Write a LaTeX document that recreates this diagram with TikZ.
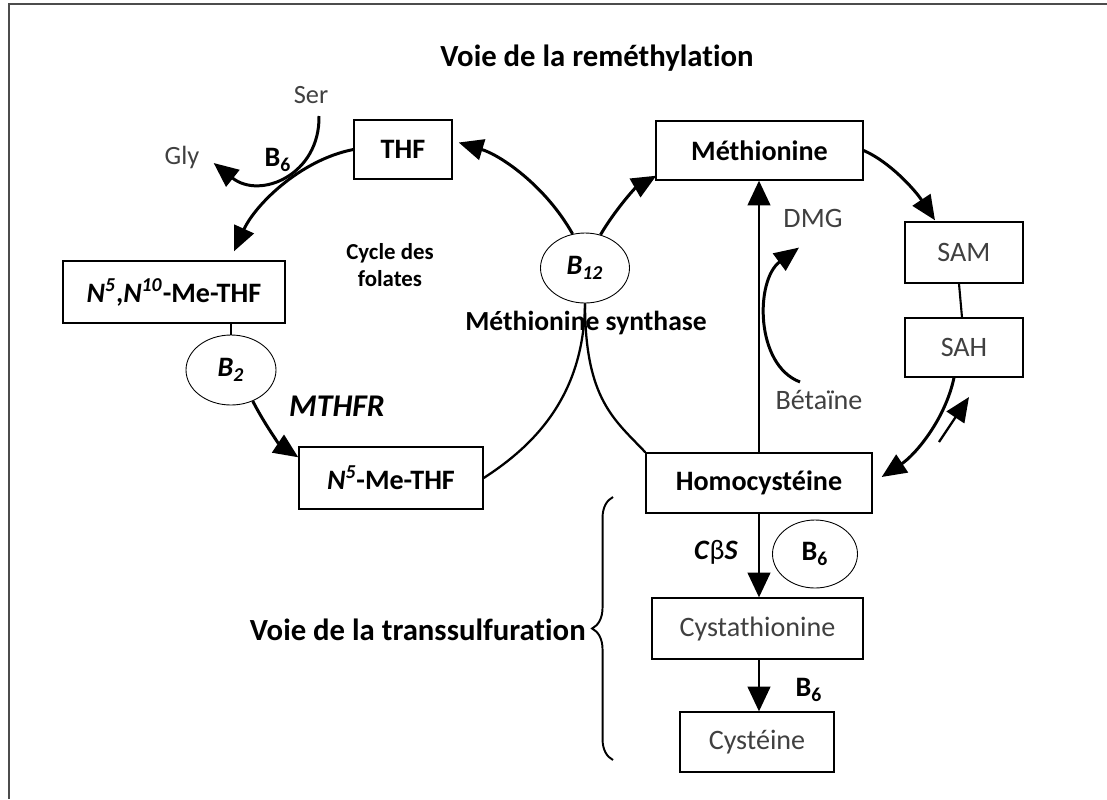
\documentclass[tikz,border=0pt]{standalone}
\usepackage{fontspec}
\setmainfont{Carlito}[Ligatures=NoCommon]
\usetikzlibrary{arrows.meta,calc,shapes.geometric,decorations.pathreplacing}

\begin{document}
\begin{tikzpicture}[x=0.02cm, y=-0.02cm,
	box/.style={draw, line width=0.8pt, inner sep=0pt},
	bfbox/.style={box, font=\fontsize{16}{18}\selectfont\bfseries},
	rmbox/.style={box, font=\fontsize{16}{18}\selectfont, text=black!75},
	vit/.style={draw, ellipse, line width=0.5pt, inner sep=0pt, font=\fontsize{16}{18}\selectfont\bfseries},
	lbl/.style={inner sep=0pt, font=\fontsize{16}{18}\selectfont, text=black!75},
	blbl/.style={inner sep=0pt, font=\fontsize{16}{18}\selectfont\bfseries},
	flux/.style={line width=1.7pt, -{Triangle[length=14pt,width=12pt]}},
	lien/.style={line width=1.3pt},
	fin/.style={line width=0.8pt, -{Triangle[length=14pt,width=13pt]}}]
	%%%%% START %%%%%
	
	\useasboundingbox (0,0) rectangle (1107,799);
	\draw[line width=1.2pt, black!70] (1107,4) -- (9,4) -- (9,799);
	
	\node[blbl, font=\fontsize{17.5}{20}\selectfont\bfseries] (titre) at (597,58) {Voie de la reméthylation};
	
	\node[bfbox, minimum width=1.96cm, minimum height=1.18cm] (thf) at (403,149.5) {THF};
	\node[bfbox, minimum width=4.14cm, minimum height=1.18cm] (meth) at (759.5,150.5) {Méthionine};
	\node[bfbox, minimum width=4.44cm, minimum height=1.24cm] (mthf) at (174,292) {\textit{N}\textsuperscript{\textit{5}},\textit{N}\textsuperscript{\textit{10}}-Me-THF};
	\node[bfbox, minimum width=3.68cm, minimum height=1.24cm] (nmthf) at (391,478) {\textit{N}\textsuperscript{\textit{5}}-Me-THF};
	\node[rmbox, minimum width=2.36cm, minimum height=1.22cm] (sam) at (964,252.5) {SAM};
	\node[rmbox, minimum width=2.36cm, minimum height=1.18cm] (sah) at (964,347.5) {SAH};
	\node[bfbox, minimum width=4.52cm, minimum height=1.2cm] (hcy) at (759,483) {Homocystéine};
	\node[rmbox, minimum width=4.22cm, minimum height=1.22cm] (cysta) at (757.5,628.5) {Cystathionine};
	\node[rmbox, minimum width=3.08cm, minimum height=1.2cm] (cys) at (757,742) {Cystéine};
	
	\node[vit, minimum width=1.8cm, minimum height=1.4cm] (bdeux) at (231,370) {\textit{B\textsubscript{2}}};
	\node[vit, minimum width=1.78cm, minimum height=1.4cm] (bdouze) at (585,268) {\textit{B\textsubscript{12}}};
	\node[vit, minimum width=1.7cm, minimum height=1.36cm] (bsix) at (815,554) {B\textsubscript{6}};
	
	\node[lbl, font=\fontsize{15}{17}\selectfont] (ser) at (311,95) {Ser};
	\node[lbl, font=\fontsize{15}{17}\selectfont] (gly) at (182,157) {Gly};
	\node[blbl] (bsixa) at (278,160) {B\textsubscript{6}};
	\node[blbl, font=\fontsize{13}{15}\selectfont\bfseries, align=center] (cycle) at (390,265) {Cycle des\\folates};
	\node[blbl, font=\fontsize{18}{20}\selectfont\bfseries] (mthfr) at (337,406) {\textit{MTHFR}};
	\node[blbl, font=\fontsize{15.7}{18}\selectfont\bfseries] (synth) at (586,323) {Méthionine synthase};
	\node[lbl] (dmg) at (813,218) {DMG};
	\node[lbl] (bet) at (819,400) {Bétaïne};
	\node[blbl] (cbs) at (716,552) {\textit{C}{\mdseries β}\textit{S}};
	\node[blbl] (bsixb) at (809,690) {B\textsubscript{6}};
	\node[blbl, font=\fontsize{17.5}{20}\selectfont\bfseries, anchor=east] (trans) at (586,630) {Voie de la transsulfuration};
	
	% cycle des folates
	\draw[flux] (thf.west) .. controls (300,160) and (255,205) .. ($(mthf.north)+(60,-9)$);
	\draw[flux] ($(ser.south)+(8,12)$) .. controls (320,175) and (260,200) .. ($(gly.east)+(14,6)$);
	\draw[lien] (mthf.south -| bdeux.north) -- (bdeux.north);
	\draw[flux] (bdeux.-55) .. controls (265,425) and (280,445) .. ($(nmthf.north west)+(0,11)$);
	\draw[lien] (bdouze.south) .. controls (584,395) and (535,445) .. (nmthf.east);
	\draw[lien] (bdouze.south) .. controls (585,400) and (615,420) .. (hcy.north west);
	\draw[flux] (bdouze.110) .. controls (545,185) and (500,155) .. ($(thf.east)+(6,-7)$);
	\draw[flux] (bdouze.65) .. controls (615,210) and (635,188) .. ($(meth.south west)+(1,-5)$);
	
	% cycle de la methionine
	\draw[flux] (meth.east) .. controls (890,162) and (915,190) .. ($(sam.north)+(-29,-1)$);
	\draw[line width=1.2pt] ($(sam.south)+(-5,0)$) -- ($(sah.north)+(-2,0)$);
	\draw[flux] ($(sah.south)+(-10,0)$) .. controls (945,420) and (915,455) .. ($(hcy.east)+(9,-6)$);
	\coordinate (retour) at (939,442);
	\coordinate (aller) at (969,397);
	\draw[flux, line width=1.3pt] (retour) -- (aller);
	\draw[fin] (hcy.north) -- (hcy.north |- meth.south);
	\draw[flux] ($(bet.north)+(-19,-8)$) .. controls (755,365) and (755,280) .. ($(dmg.south)+(-14,20)$);
	
	% transsulfuration
	\draw[fin] (hcy.south) -- (hcy.south |- cysta.north);
	\draw[fin] (cysta.south -| hcy.south) -- (hcy.south |- cys.north);
	\draw[line width=1.1pt, decorate, decoration={brace, amplitude=11.9pt}] (613,760) -- (613,497);
	
	%%%%% END %%%%%
\end{tikzpicture}
\end{document}
